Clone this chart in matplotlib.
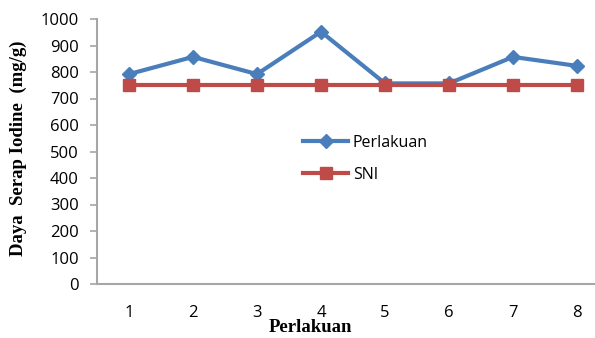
import matplotlib.pyplot as plt

perlakuan = [1, 2, 3, 4, 5, 6, 7, 8]
daya_serap = [792, 857, 792, 952, 757, 757, 857, 823]
sni = [750, 750, 750, 750, 750, 750, 750, 750]
yticks = [0, 100, 200, 300, 400, 500, 600, 700, 800, 900, 1000]

blue = '#4A7EBB'
red = '#BE4B48'
grey = '#A6A6A6'

fig = plt.figure(figsize=(5.95, 3.38), dpi=100)
ax = fig.add_axes([97 / 595, 54 / 338, 512 / 595, 265 / 338])

ax.plot(perlakuan, daya_serap, color=blue, linewidth=3, marker='D',
        markersize=7, label='Perlakuan', clip_on=False)
ax.plot(perlakuan, sni, color=red, linewidth=3, marker='s',
        markersize=9, label='SNI', clip_on=False)

ax.set_xlim(0.5, 8.5)
ax.set_ylim(0, 1000)
ax.set_xticks(perlakuan)
ax.set_yticks(yticks)

for side in ['top', 'right']:
    ax.spines[side].set_visible(False)
for side in ['left', 'bottom']:
    ax.spines[side].set_color(grey)
    ax.spines[side].set_linewidth(1.5)

ax.tick_params(axis='y', colors=grey, length=5, width=1.2, labelcolor='black',
               labelsize=12, pad=8)
ax.tick_params(axis='x', length=0, labelcolor='black', labelsize=12, pad=15)
for lbl in ax.get_xticklabels() + ax.get_yticklabels():
    lbl.set_family('Open Sans')

# axis titles in bold serif
fig.text(310 / 595, 1 - 328 / 338, 'Perlakuan', family='Liberation Serif',
         fontweight='bold', fontsize=13.5, ha='center', va='center')
fig.text(18 / 595, 0.56, 'Daya  Serap Iodine  (mg/g)', rotation=90,
         family='Liberation Serif', fontweight='bold', fontsize=13.5,
         ha='center', va='center')

leg = ax.legend(loc='center left', bbox_to_anchor=(289 / 595, 1 - 159 / 338),
                bbox_transform=fig.transFigure, frameon=False,
                handlelength=2.8, labelspacing=1.0, handletextpad=0.3,
                prop={'family': 'Open Sans', 'size': 11.5})

fig.savefig('out.png', dpi=100)
